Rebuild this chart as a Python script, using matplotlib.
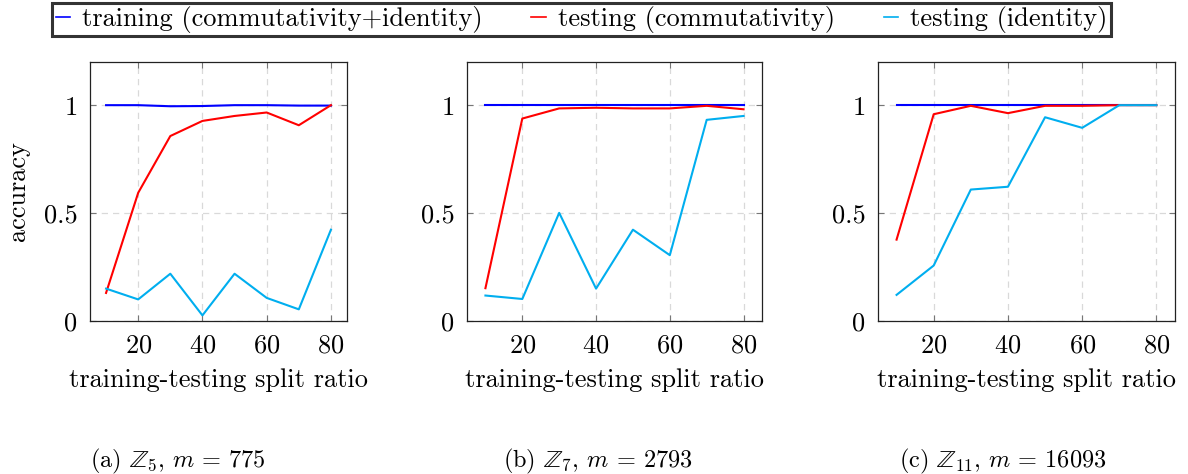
import matplotlib
matplotlib.use('Agg')
import matplotlib.pyplot as plt
from matplotlib.lines import Line2D

plt.rcParams['font.family'] = ['cmr10', 'DejaVu Serif']
plt.rcParams['mathtext.fontset'] = 'cm'
plt.rcParams['axes.unicode_minus'] = False
plt.rcParams['axes.formatter.use_mathtext'] = True

# split ratios on the x axis
ratios = [10, 20, 30, 40, 50, 60, 70, 80]

# Z_5, m = 775
train_z5 = [1.0, 1.0, 0.995, 0.996, 1.0, 1.0, 0.998, 0.998]
comm_z5 = [0.13, 0.594, 0.857, 0.927, 0.95, 0.966, 0.907, 1.0]
ident_z5 = [0.15, 0.10, 0.219, 0.026, 0.219, 0.107, 0.054, 0.423]

# Z_7, m = 2793
train_z7 = [1.0, 1.0, 1.0, 1.0, 1.0, 1.0, 1.0, 1.0]
comm_z7 = [0.152, 0.938, 0.985, 0.988, 0.985, 0.985, 0.997, 0.981]
ident_z7 = [0.118, 0.102, 0.501, 0.15, 0.423, 0.305, 0.932, 0.95]

# Z_11, m = 16093
train_z11 = [1.0, 1.0, 1.0, 1.0, 1.0, 1.0, 1.0, 1.0]
comm_z11 = [0.377, 0.958, 0.997, 0.963, 0.997, 0.997, 1.0, 1.0]
ident_z11 = [0.121, 0.257, 0.609, 0.622, 0.944, 0.895, 1.0, 1.0]

captions = [r'(a) $\mathbb{Z}_5$, $m$ = 775',
            r'(b) $\mathbb{Z}_7$, $m$ = 2793',
            r'(c) $\mathbb{Z}_{11}$, $m$ = 16093']
series_names = ['training (commutativity+identity)', 'testing (commutativity)',
                'testing (identity)']
colors = ['#0000ff', '#ff0000', '#00aeef']

panels = [(train_z5, comm_z5, ident_z5),
          (train_z7, comm_z7, ident_z7),
          (train_z11, comm_z11, ident_z11)]

W, H = 1188, 474
fig = plt.figure(figsize=(W / 100, H / 100), dpi=100)

# axes boxes in pixels: left, right, top, bottom
boxes = [(90, 347, 62, 321), (467, 762, 62, 321), (878, 1175, 62, 321)]
caption_x = [178, 598, 1003]

for i, (box, data) in enumerate(zip(boxes, panels)):
    l, r, t, b = box
    ax = fig.add_axes([l / W, 1 - b / H, (r - l) / W, (b - t) / H])
    for ys, c in zip(data, colors):
        ax.plot(ratios, ys, color=c, lw=1.5)
    ax.set_xlim(5, 85)
    ax.set_ylim(0, 1.2)
    ax.set_xticks([20, 40, 60, 80])
    ax.set_yticks([0, 0.5, 1])
    ax.set_yticklabels(['0', '0.5', '1'])
    ax.grid(True, color='#d9d9d9', ls=(0, (5, 4)), lw=0.9)
    ax.tick_params(direction='in', top=True, right=True, length=4,
                   color='#777777', labelsize=19, pad=9)
    for s in ax.spines.values():
        s.set_color('#222222')
        s.set_linewidth(0.9)
    ax.set_xlabel('training-testing split ratio', fontsize=19, labelpad=8)
    if i == 0:
        ax.set_ylabel('accuracy', fontsize=19, labelpad=10)
    fig.text(caption_x[i] / W, 1 - 461 / H, captions[i], fontsize=17.5,
             ha='center', va='center')

handles = [Line2D([], [], color=c, lw=1.2) for c in colors]
leg = fig.legend(handles, series_names, loc='upper center',
                 bbox_to_anchor=(581.5 / W, 1.0), ncol=3, fontsize=19,
                 frameon=True, fancybox=False, handlelength=0.55,
                 handletextpad=0.45, columnspacing=1.85, borderpad=0.12,
                 borderaxespad=0.1)
leg.get_frame().set_edgecolor('black')
leg.get_frame().set_linewidth(2.2)

fig.savefig('out.png', dpi=100)
